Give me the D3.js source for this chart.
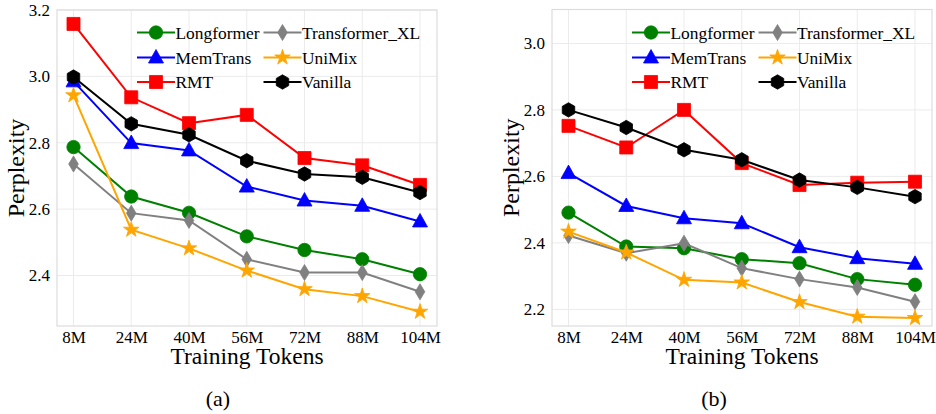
<!DOCTYPE html>
<html><head><meta charset="utf-8">
<script src="https://cdn.jsdelivr.net/npm/d3@7"></script>
<style>body{margin:0;background:#fff}svg{display:block}
svg text{font-family:"Liberation Serif","Tinos","Times New Roman","DejaVu Serif",serif;}</style>
</head><body>
<svg id="c" width="936" height="414"></svg>
<script>
const categories = ["8M","24M","40M","56M","72M","88M","104M"];
const seriesNames = ["Longformer","Transformer_XL","MemTrans","UniMix","RMT","Vanilla"];
const colors = ["#008000","#808080","#0000ff","#ffa500","#ff0000","#000000"];
const markers = ["circle","diamond","triangle","star","square","hexagon"];

// Panel (a)
const a_Longformer    = [2.787, 2.638, 2.589, 2.518, 2.477, 2.449, 2.404];
const a_TransformerXL = [2.736, 2.588, 2.566, 2.449, 2.409, 2.409, 2.351];
const a_MemTrans      = [2.985, 2.799, 2.777, 2.668, 2.626, 2.610, 2.563];
const a_UniMix        = [2.943, 2.538, 2.482, 2.415, 2.359, 2.338, 2.291];
const a_RMT           = [3.158, 2.937, 2.859, 2.884, 2.754, 2.732, 2.673];
const a_Vanilla       = [2.998, 2.857, 2.824, 2.746, 2.706, 2.696, 2.650];
const a_ticks = [2.4, 2.6, 2.8, 3.0, 3.2];

// Panel (b)
const b_Longformer    = [2.491, 2.389, 2.384, 2.351, 2.339, 2.291, 2.274];
const b_TransformerXL = [2.422, 2.369, 2.399, 2.324, 2.291, 2.266, 2.223];
const b_MemTrans      = [2.610, 2.511, 2.474, 2.459, 2.387, 2.354, 2.337];
const b_UniMix        = [2.434, 2.371, 2.289, 2.281, 2.222, 2.178, 2.174];
const b_RMT           = [2.752, 2.687, 2.800, 2.640, 2.574, 2.581, 2.584];
const b_Vanilla       = [2.800, 2.747, 2.680, 2.650, 2.589, 2.567, 2.539];
const b_ticks = [2.2, 2.4, 2.6, 2.8, 3.0];

const svg = d3.select("#c");

function markerPath(type){
  switch(type){
    case "circle": return d3.symbol(d3.symbolCircle, 140)();
    case "square": return d3.symbol(d3.symbolSquare, 170)();
    case "triangle": return "M0,-8L7.5,5.5L-7.5,5.5Z";
    case "star": return d3.symbol(d3.symbolStar, 75)();
    case "diamond": return "M0,-8L4.8,0L0,8L-4.8,0Z";
    case "hexagon": {
      const r=7.2, pts=[];
      for(let i=0;i<6;i++){const a=-Math.PI/2+i*Math.PI/3; pts.push([r*Math.cos(a), r*Math.sin(a)]);}
      return "M"+pts.map(p=>p.join(",")).join("L")+"Z";
    }
  }
}

function panel(opt){
  const {x0,x1,y0,y1,domain,ticks,data,label,legendX,legendX2} = opt;
  const g = svg.append("g");
  const x = d3.scalePoint().domain(categories).range([x0+16.5, x1-17]);
  const y = d3.scaleLinear().domain(domain).range([y1, y0]);
  // grid
  g.append("g").selectAll("line").data(ticks).join("line")
    .attr("x1",x0).attr("x2",x1).attr("y1",d=>y(d)).attr("y2",d=>y(d))
    .attr("stroke","#ebebeb").attr("stroke-width",1);
  g.append("g").selectAll("line").data(categories).join("line")
    .attr("y1",y0).attr("y2",y1).attr("x1",d=>x(d)).attr("x2",d=>x(d))
    .attr("stroke","#ebebeb").attr("stroke-width",1);
  // frame
  g.append("rect").attr("x",x0).attr("y",y0).attr("width",x1-x0).attr("height",y1-y0)
    .attr("fill","none").attr("stroke","#dcdcdc").attr("stroke-width",1.2);
  // axes
  const ya = d3.axisLeft(y).tickValues(ticks).tickFormat(d3.format(".1f")).tickSize(0).tickPadding(7);
  const ga = g.append("g").attr("transform",`translate(${x0},0)`).call(ya);
  ga.select(".domain").remove();
  ga.attr("font-family",null).attr("font-size",null);
  ga.selectAll("text").style("font-size","17px").attr("fill","#000");
  const xa = d3.axisBottom(x).tickSize(0).tickPadding(5);
  const gx = g.append("g").attr("transform",`translate(0,${y1})`).call(xa);
  gx.select(".domain").remove();
  gx.attr("font-family",null).attr("font-size",null);
  gx.selectAll("text").style("font-size","17px").attr("fill","#000");
  // labels
  g.append("text").attr("x",(x0+x1)/2).attr("y",364).attr("text-anchor","middle")
    .style("font-size","23.5px").text("Training Tokens");
  g.append("text").attr("transform",`translate(${x0-33},${(y0+y1)/2}) rotate(-90)`)
    .attr("text-anchor","middle").style("font-size","24px").text("Perplexity");
  g.append("text").attr("x",label.x).attr("y",406).attr("text-anchor","middle")
    .style("font-size","22px").text(label.t);
  // series
  const line = d3.line().x((d,i)=>x(categories[i])).y(d=>y(d));
  data.forEach((vals,k)=>{
    const s = g.append("g");
    s.append("path").attr("d",line(vals)).attr("fill","none").attr("stroke",colors[k]).attr("stroke-width",2);
    s.selectAll("path.m").data(vals).join("path").attr("class","m")
      .attr("d",markerPath(markers[k]))
      .attr("transform",(d,i)=>`translate(${x(categories[i])},${y(d)})`)
      .attr("fill",colors[k]).attr("stroke",colors[k]).attr("stroke-width",0.8);
  });
  // legend
  const rows = [32.5, 57.5, 82];
  seriesNames.forEach((name,k)=>{
    const lx = (k%2===0)?legendX:legendX2;
    const ly = rows[Math.floor(k/2)];
    const lg = g.append("g");
    lg.append("line").attr("x1",lx).attr("x2",lx+38).attr("y1",ly).attr("y2",ly)
      .attr("stroke",colors[k]).attr("stroke-width",2);
    lg.append("path").attr("d",markerPath(markers[k])).attr("transform",`translate(${lx+19},${ly})`)
      .attr("fill",colors[k]).attr("stroke",colors[k]).attr("stroke-width",0.8);
    lg.append("text").attr("x",lx+38.5).attr("y",ly+6).style("font-size","17.4px").text(name);
  });
}

panel({x0:57, x1:437, y0:10, y1:326, domain:[2.248,3.2], ticks:a_ticks,
  data:[a_Longformer,a_TransformerXL,a_MemTrans,a_UniMix,a_RMT,a_Vanilla],
  label:{x:218,t:"(a)"}, legendX:137, legendX2:263.5});
panel({x0:552, x1:932, y0:9.5, y1:326, domain:[2.150,3.102], ticks:b_ticks,
  data:[b_Longformer,b_TransformerXL,b_MemTrans,b_UniMix,b_RMT,b_Vanilla],
  label:{x:714,t:"(b)"}, legendX:632, legendX2:758.5});
</script>
</body></html>
